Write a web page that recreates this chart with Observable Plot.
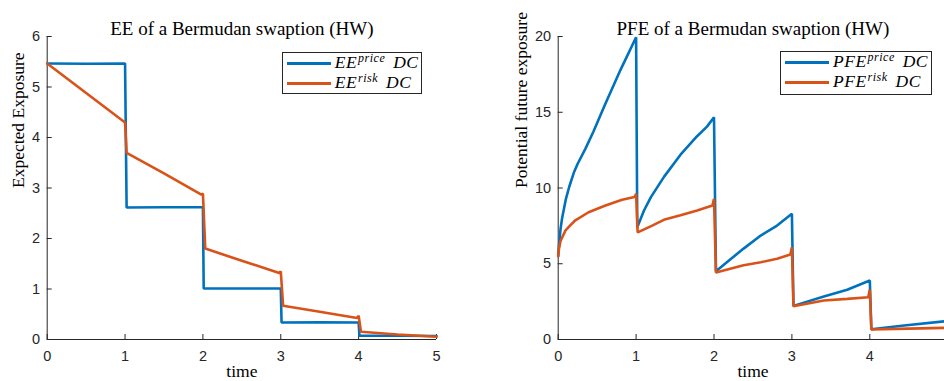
<!DOCTYPE html>
<html>
<head>
<meta charset="utf-8">
<script src="https://cdn.jsdelivr.net/npm/d3@7"></script>
<script src="https://cdn.jsdelivr.net/npm/@observablehq/plot@0.6"></script>
<style>
  html, body { margin: 0; padding: 0; background: #fff; }
  body { width: 944px; height: 381px; overflow: hidden; position: relative; }
  .panel { position: absolute; top: 0; }
  .panel svg { max-width: none !important; display: block; }
  .legend { position: absolute; border: 1px solid #262626; background: #fff; box-sizing: border-box; }
  .legend .swatch { position: absolute; height: 3px; }
  .legend .entry { position: absolute; font-family: "Liberation Serif", serif; font-style: italic; font-size: 17.5px; color: #000; white-space: nowrap; line-height: 1; letter-spacing: 0.5px; }
  .legend .entry sup { font-size: 12px; vertical-align: 0; position: relative; top: -0.55em; margin-left: 1px; }
  .legend .entry .gap { display: inline-block; width: 8px; }
</style>
</head>
<body>
<script>
// Tick values
const xTicks = [0, 1, 2, 3, 4, 5];
const eeTicks = [0, 1, 2, 3, 4, 5, 6];
const pfeTicks = [0, 5, 10, 15, 20];

// Expected exposure, price-measure discounting
const eePriceT = [0, 0.5, 1.0, 1.02, 1.5, 2.0, 2.01, 2.5, 3.0, 3.01, 3.5, 4.0, 4.01, 4.5, 5.0];
const eePriceV = [5.465, 5.46, 5.465, 2.614, 2.62, 2.62, 1.01, 1.01, 1.01, 0.337, 0.34, 0.337, 0.075, 0.073, 0.07];

// Expected exposure, risk-measure discounting
const eeRiskT = [0, 0.5, 1.0, 1.02, 1.5, 1.98, 2.0, 2.03, 2.5, 2.98, 3.0, 3.03, 3.5, 3.98, 4.0, 4.03, 4.5, 5.0];
const eeRiskV = [5.465, 4.88, 4.297, 3.697, 3.29, 2.87, 2.89, 1.80, 1.56, 1.315, 1.35, 0.667, 0.55, 0.424, 0.47, 0.152, 0.10, 0.053];

// Potential future exposure, price-measure discounting
const pfePriceT = [0, 0.01, 0.03, 0.05, 0.1, 0.14, 0.2, 0.25, 0.35, 0.45, 0.6, 0.8, 1.0,
                   1.015, 1.1, 1.19, 1.36, 1.57, 1.78, 1.91, 2.0,
                   2.025, 2.2, 2.38, 2.6, 2.81, 3.0,
                   3.02, 3.41, 3.71, 4.0,
                   4.02, 4.44, 5.0];
const pfePriceV = [5.5, 6.2, 7.3, 8.0, 9.3, 10.05, 11.0, 11.6, 12.6, 13.7, 15.5, 17.8, 19.95,
                   7.4, 8.5, 9.4, 10.75, 12.2, 13.4, 14.05, 14.67,
                   4.5, 5.25, 6.0, 6.86, 7.52, 8.3,
                   2.22, 2.84, 3.28, 3.89,
                   0.68, 0.92, 1.22];

// Potential future exposure, risk-measure discounting
const pfeRiskT = [0, 0.01, 0.03, 0.094, 0.158, 0.22, 0.39, 0.607, 0.82, 0.98, 1.0,
                  1.02, 1.2, 1.356, 1.57, 1.784, 1.98, 2.0,
                  2.025, 2.38, 2.6, 2.81, 2.98, 3.0,
                  3.02, 3.41, 3.71, 3.98, 4.0,
                  4.02, 4.5, 5.0];
const pfeRiskV = [5.5, 6.0, 6.5, 7.2, 7.55, 7.87, 8.4, 8.84, 9.22, 9.4, 9.62,
                  7.07, 7.5, 7.9, 8.2, 8.51, 8.84, 9.28,
                  4.43, 4.9, 5.1, 5.33, 5.61, 6.09,
                  2.2, 2.57, 2.68, 2.79, 3.3,
                  0.66, 0.72, 0.77];

const blue = "#0072BD";
const orange = "#D95319";
const axisColor = "#262626";
const sans = "'Liberation Sans', Arial, sans-serif";
const serif = "'Liberation Serif', 'Times New Roman', serif";
const intFormat = d => String(d);

const toRows = (t, v) => t.map((d, i) => ({t: d, v: v[i]}));

function panel({left, width, marginLeft, marginRight, yDomain, yTicks, title, ylabel, ylabelDx, series}) {
  const chart = Plot.plot({
    width, height: 381,
    marginLeft, marginRight, marginTop: 36, marginBottom: 42,
    style: {background: "transparent", color: axisColor, overflow: "visible"},
    x: {domain: [0, 5]},
    y: {domain: yDomain},
    marks: [
      Plot.axisX({ticks: xTicks, tickFormat: intFormat, tickSize: -5, tickPadding: 16, label: null,
                  fontFamily: sans, fontSize: 14.5, stroke: axisColor}),
      Plot.axisY({ticks: yTicks, tickFormat: intFormat, tickSize: -5, tickPadding: 12, label: null,
                  fontFamily: sans, fontSize: 14.5, stroke: axisColor}),
      Plot.ruleX([0], {stroke: axisColor, strokeWidth: 1}),
      Plot.ruleY([0], {stroke: axisColor, strokeWidth: 1}),
      ...series.map(s => Plot.line(toRows(s.t, s.v), {
        x: "t", y: "v", stroke: s.color, strokeWidth: 2.6, strokeLinejoin: "miter"
      })),
      Plot.text([title], {frameAnchor: "top", dy: -15, fontFamily: serif, fontSize: 19, fill: "#000"}),
      Plot.text(["time"], {frameAnchor: "bottom", dy: 37, fontFamily: serif, fontSize: 17.5, fill: "#000"}),
      Plot.text([ylabel], {frameAnchor: "left", dx: ylabelDx, rotate: -90, fontFamily: serif, fontSize: 17.5, fill: "#000"})
    ]
  });
  const wrap = document.createElement("div");
  wrap.className = "panel";
  wrap.style.left = left + "px";
  wrap.style.width = width + "px";
  wrap.appendChild(chart);
  document.body.appendChild(wrap);
}

function legend({left, top, width, height, textLeft, rows}) {
  const box = document.createElement("div");
  box.className = "legend";
  Object.assign(box.style, {left: left + "px", top: top + "px", width: width + "px", height: height + "px"});
  rows.forEach((r, i) => {
    const y = 11 + i * 20;
    const sw = document.createElement("div");
    sw.className = "swatch";
    Object.assign(sw.style, {left: "4px", width: "44px", top: (y - 1.5) + "px", background: r.color});
    box.appendChild(sw);
    const tx = document.createElement("div");
    tx.className = "entry";
    tx.style.left = textLeft + "px";
    tx.style.top = (y - 9.5) + "px";
    tx.innerHTML = `${r.base}<sup>${r.sup}</sup><span class="gap"></span>DC`;
    box.appendChild(tx);
  });
  document.body.appendChild(box);
}

panel({
  left: 0, width: 470, marginLeft: 46.7, marginRight: 34,
  yDomain: [0, 6], yTicks: eeTicks,
  title: "EE of a Bermudan swaption (HW)",
  ylabel: "Expected Exposure", ylabelDx: -29,
  series: [
    {t: eePriceT, v: eePriceV, color: blue},
    {t: eeRiskT, v: eeRiskV, color: orange}
  ]
});

panel({
  left: 470, width: 500, marginLeft: 87.7, marginRight: 22.8,
  yDomain: [0, 20], yTicks: pfeTicks,
  title: "PFE of a Bermudan swaption (HW)",
  ylabel: "Potential future exposure", ylabelDx: -37,
  series: [
    {t: pfePriceT, v: pfePriceV, color: blue},
    {t: pfeRiskT, v: pfeRiskV, color: orange}
  ]
});

legend({
  left: 281.7, top: 51.7, width: 140, height: 42.3, textLeft: 52,
  rows: [
    {base: "EE", sup: "price", color: blue},
    {base: "EE", sup: "risk", color: orange}
  ]
});

legend({
  left: 780, top: 50.7, width: 151.7, height: 44.3, textLeft: 52,
  rows: [
    {base: "PFE", sup: "price", color: blue},
    {base: "PFE", sup: "risk", color: orange}
  ]
});
</script>
</body>
</html>
